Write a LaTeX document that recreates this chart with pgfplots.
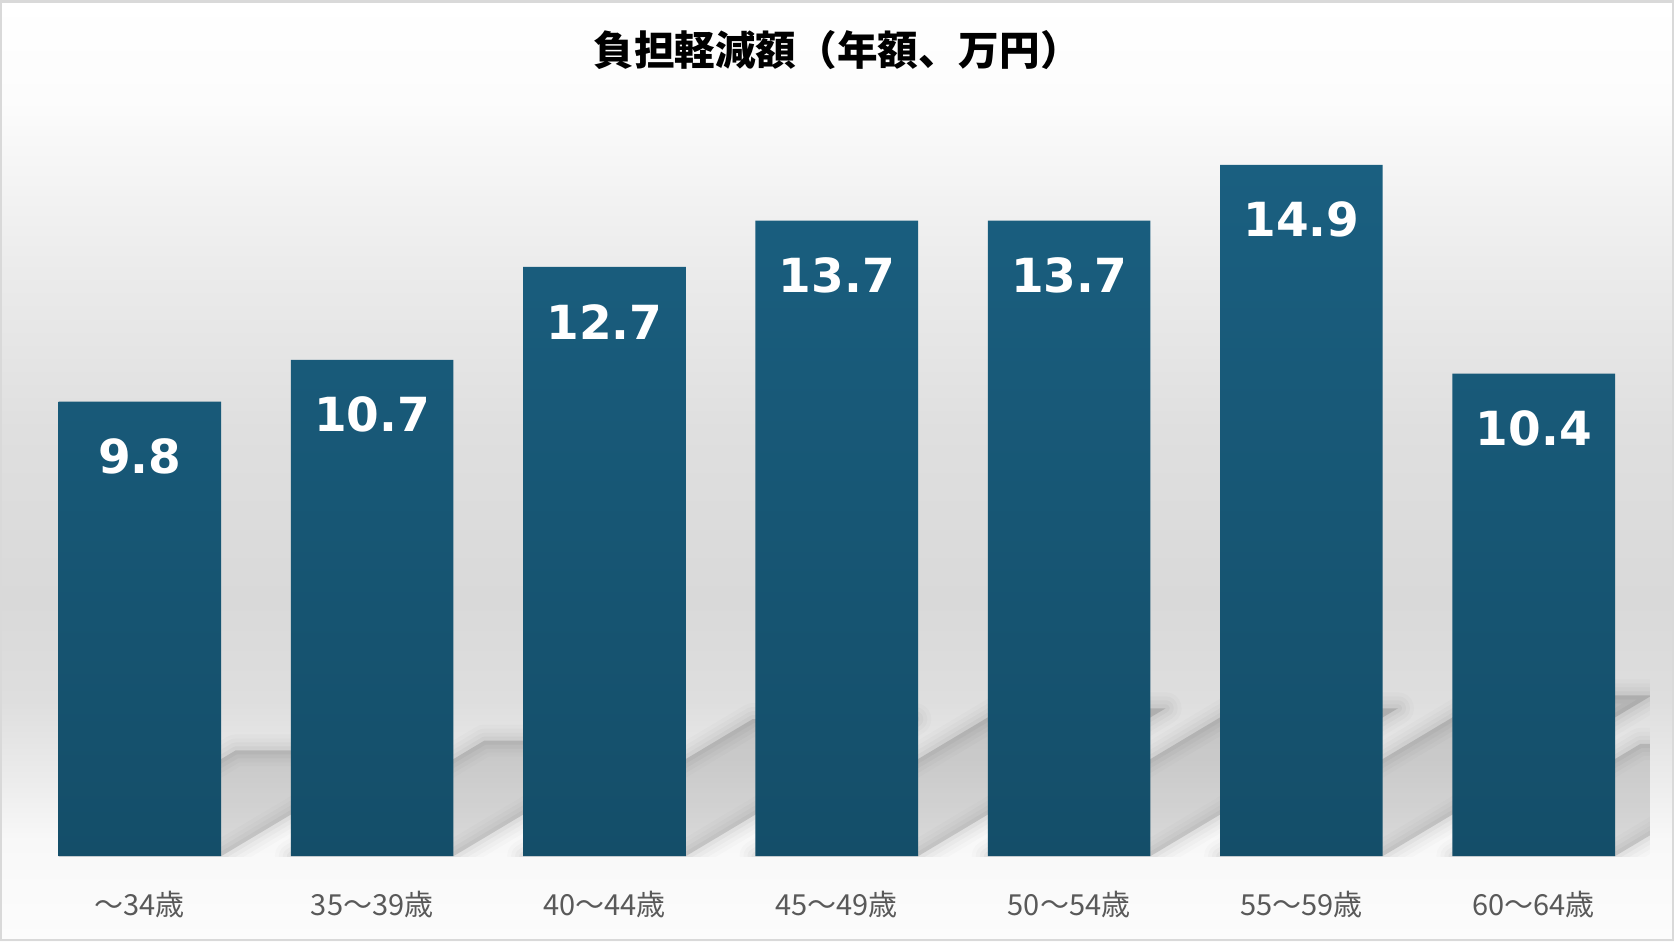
\documentclass[border=0pt]{standalone}
\usepackage{pgfplots}
\pgfplotsset{compat=1.18}
\usepackage{pgfplotstable}
\usepackage{fontspec}
\newfontfamily\jp{Noto Sans CJK JP}
\newfontfamily\vf{DejaVu Sans}
\definecolor{bartop}{RGB}{26,95,128}
\definecolor{barbot}{RGB}{20,78,105}
\definecolor{ticktxt}{RGB}{89,89,89}
\definecolor{frame}{RGB}{217,217,217}
\definecolor{g0}{RGB}{255,255,255}
\definecolor{g1}{RGB}{252,252,252}
\definecolor{g2}{RGB}{236,236,236}
\definecolor{g3}{RGB}{223,223,223}
\definecolor{g4}{RGB}{217,217,217}
\definecolor{g5}{RGB}{222,222,222}
\definecolor{g6}{RGB}{236,236,236}
\definecolor{g7}{RGB}{248,248,248}
\definecolor{g8}{RGB}{252,252,252}
\pgfplotstableread{
x v
0 9.8
1 10.7
2 12.7
3 13.7
4 13.7
5 14.9
6 10.4
}\data
\begin{document}
\begin{tikzpicture}
% background gradient (y in px from top -> pt = (941-y)/2)
\fill[top color=g0, bottom color=g1] (0,470.5pt) rectangle (837pt,420.5pt);
\fill[top color=g1, bottom color=g2] (0,420.5pt) rectangle (837pt,340.5pt);
\fill[top color=g2, bottom color=g3] (0,340.5pt) rectangle (837pt,255.5pt);
\fill[top color=g3, bottom color=g4] (0,255.5pt) rectangle (837pt,170.5pt);
\fill[top color=g4, bottom color=g5] (0,170.5pt) rectangle (837pt,120.5pt);
\fill[top color=g5, bottom color=g6] (0,120.5pt) rectangle (837pt,80.5pt);
\fill[top color=g6, bottom color=g7] (0,80.5pt) rectangle (837pt,50.5pt);
\fill[top color=g7, bottom color=g8] (0,50.5pt) rectangle (837pt,0pt);
\draw[frame, line width=1.2pt] (0.6pt,0.6pt) rectangle (836.4pt,469.9pt);
\begin{axis}[
  at={(0pt,42.5pt)}, anchor=south west,
  scale only axis, width=837pt, height=428pt,
  xmin=-0.602, xmax=6.604, ymin=0, ymax=18.45,
  axis line style={draw=none},
  ytick=\empty,
  xtick=data,
  xticklabels={～34歳,35～39歳,40～44歳,45～49歳,50～54歳,55～59歳,60～64歳},
  major tick length=0pt,
  xticklabel style={font=\jp\fontsize{14.5}{16}\selectfont, text=ticktxt, anchor=center, yshift=-24pt},
  ybar, bar width=0.70,
  nodes near coords,
  nodes near coords style={font=\vf\bfseries\fontsize{23.5}{26}\selectfont, text=white, anchor=center, yshift=-27.5pt,
    /pgf/number format/.cd, fixed, fixed zerofill, precision=1, assume math mode=true},
  title={\jp\bfseries 負担軽減額（年額、万円）},
  title style={at={(0.5,0.9276)}, anchor=center, font=\fontsize{20.3}{24}\selectfont},
]
\begin{scope}
\clip (axis cs:-0.35,0) rectangle (axis cs:6.5,18);
\pgfplotsforeachungrouped \i in {0,...,6}{
  \pgfplotstablegetelem{\i}{v}\of\data
  \pgfmathsetmacro\xl{\i-0.35}
  \pgfmathsetmacro\xr{\i+0.35}
  \pgfmathsetmacro\hh{0.2327*\pgfplotsretval}
  \pgfmathsetmacro\dd{0.0778*\pgfplotsretval}
  \pgfmathsetmacro\xlt{\xl+\dd}
  \pgfmathsetmacro\xrt{\xr+\dd}
  \edef\temp{%
    \noexpand\draw[black, line width=16pt, line join=round, opacity=0.015] (axis cs:\xl,0) -- (axis cs:\xr,0) -- (axis cs:\xrt,\hh) -- (axis cs:\xlt,\hh) -- cycle;
    \noexpand\draw[black, line width=12pt, line join=round, opacity=0.02] (axis cs:\xl,0) -- (axis cs:\xr,0) -- (axis cs:\xrt,\hh) -- (axis cs:\xlt,\hh) -- cycle;
    \noexpand\draw[black, line width=8pt, line join=round, opacity=0.025] (axis cs:\xl,0) -- (axis cs:\xr,0) -- (axis cs:\xrt,\hh) -- (axis cs:\xlt,\hh) -- cycle;
    \noexpand\draw[black, line width=4pt, line join=round, opacity=0.03] (axis cs:\xl,0) -- (axis cs:\xr,0) -- (axis cs:\xrt,\hh) -- (axis cs:\xlt,\hh) -- cycle;
    \noexpand\fill[black, opacity=0.13] (axis cs:\xl,0) -- (axis cs:\xr,0) -- (axis cs:\xrt,\hh) -- (axis cs:\xlt,\hh) -- cycle;
  }
  \temp
}
\end{scope}
\addplot[draw=none, top color=bartop, bottom color=barbot] table[x=x, y=v] {\data};
\end{axis}
\end{tikzpicture}
\end{document}
